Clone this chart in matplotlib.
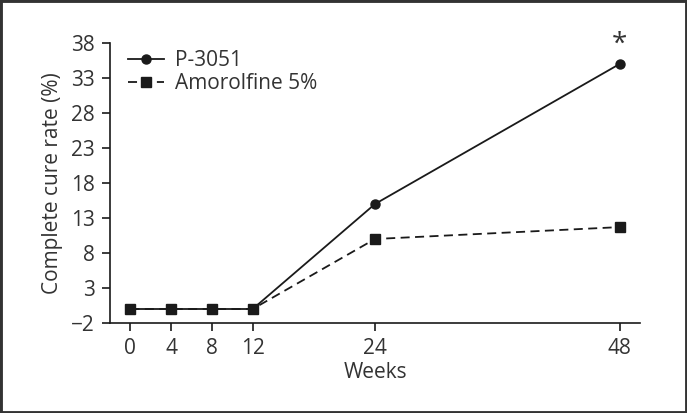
import matplotlib
matplotlib.use("Agg")
import matplotlib.pyplot as plt
from matplotlib.patches import Rectangle

plt.rcParams['font.family'] = ['Open Sans', 'DejaVu Sans']

weeks = [0, 4, 8, 12, 24, 48]
p3051 = [0, 0, 0, 0, 15, 35]
amorolfine = [0, 0, 0, 0, 10, 11.7]
yticks = [-2, 3, 8, 13, 18, 23, 28, 33, 38]

fig = plt.figure(figsize=(6.87, 4.13), dpi=100)
ax = fig.add_axes([110/687, 1-323/413, (640-110)/687, (323-43)/413])

ax.plot(weeks, p3051, '-', color='#1a1a1a', marker='o', markersize=6.5, lw=1.3, label='P-3051')
ax.plot(weeks, amorolfine, '--', color='#1a1a1a', marker='s', markersize=6.5, lw=1.3,
        dashes=(5, 3), label='Amorolfine 5%')
ax.text(48, 35 + 0.7, '*', ha='center', va='bottom', fontsize=20, color='#333333')

ax.set_xlim(-2, 50)
ax.set_ylim(-2, 38)
ax.set_xticks(weeks)
ax.set_yticks(yticks)
ax.set_yticklabels(['\u22122'] + [str(t) for t in yticks[1:]])
ax.spines['top'].set_visible(False)
ax.spines['right'].set_visible(False)
for s in ['left', 'bottom']:
    ax.spines[s].set_color('#1a1a1a')
    ax.spines[s].set_linewidth(1.2)
ax.tick_params(direction='out', length=6, width=1.2, colors='#1a1a1a', labelsize=15, pad=5)
for lab in ax.get_xticklabels() + ax.get_yticklabels():
    lab.set_color('#333333')
ax.set_xlabel('Weeks', fontsize=15, color='#333333', labelpad=2)
ax.set_ylabel('Complete cure rate (%)', fontsize=15, color='#333333', labelpad=6)

leg = ax.legend(loc='upper left', bbox_to_anchor=(0.01, 1.02), frameon=False, fontsize=15,
                handlelength=1.75, handletextpad=0.5, labelspacing=0.1, borderaxespad=0.2)
for t in leg.get_texts():
    t.set_color('#333333')

fig.patches.append(Rectangle((0, 0), 1, 1, transform=fig.transFigure, fill=False,
                             edgecolor='#333333', linewidth=3.5, zorder=10))

fig.savefig('out.png', dpi=100)
